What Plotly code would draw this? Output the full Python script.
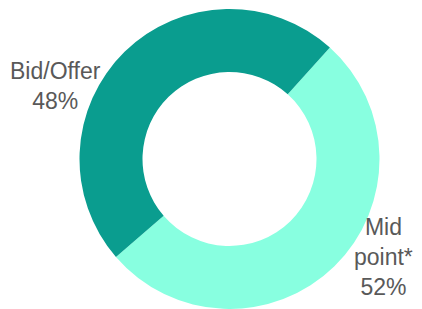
import plotly.graph_objects as go

labels = ["Mid<br>point*", "Bid/Offer"]
values = [52, 48]
colors = ["#88FFE0", "#0A9D8F"]
label_x = [0.9080, 0.1159]
label_y = [0.1740, 0.7420]

# The page body adds an 8px margin, so the figure is 8px smaller than the window.
W, H = 414, 301
cx, r = 221.5, 160

fig = go.Figure(go.Pie(
    labels=labels,
    values=values,
    marker=dict(colors=colors, line=dict(width=0)),
    hole=0.58,
    sort=False,
    direction="clockwise",
    rotation=42,
    textinfo="none",
    hoverinfo="label+percent",
    showlegend=False,
    domain=dict(x=[(cx - r) / W, (cx + r) / W], y=[0, 300 / H]),
))

total = sum(values)
for lab, v, x, y in zip(labels, values, label_x, label_y):
    fig.add_annotation(
        x=x, y=y, xref="paper", yref="paper",
        text=f"{lab}<br>{round(100 * v / total)}%",
        showarrow=False, xanchor="center", yanchor="middle", align="center",
        font=dict(family="Liberation Sans, Arial, sans-serif", size=23, color="#595959"),
    )

fig.update_layout(
    width=W, height=H,
    margin=dict(l=0, r=0, t=0, b=0),
    paper_bgcolor="white", plot_bgcolor="white",
)
fig.write_html("out.html")
